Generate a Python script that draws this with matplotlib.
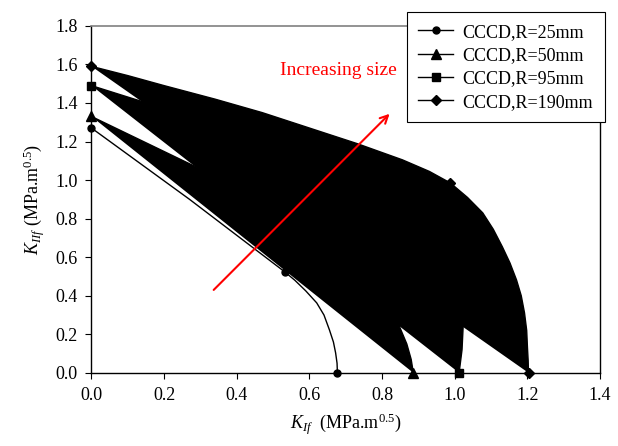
import numpy as np
import matplotlib
matplotlib.use("Agg")
from matplotlib import pyplot as plt

plt.rcParams['font.family'] = ['Liberation Serif', 'DejaVu Serif']
plt.rcParams['mathtext.fontset'] = 'custom'
plt.rcParams['mathtext.rm'] = 'Liberation Serif'
plt.rcParams['mathtext.it'] = 'Liberation Serif:italic'

# fracture envelopes KIf - KIIf for each specimen radius
k1_25 = [0, 0.27, 0.532, 0.56, 0.59, 0.62, 0.64, 0.655, 0.666, 0.672, 0.676, 0.677]
k2_25 = [1.27, 0.90, 0.524, 0.48, 0.425, 0.363, 0.30, 0.223, 0.16, 0.104, 0.05, 0]
mk_25 = [0, 2, 11]

k1_50 = [0, 0.286, 0.5, 0.70, 0.77, 0.815, 0.845, 0.868, 0.88, 0.886]
k2_50 = [1.33, 1.07, 0.88, 0.70, 0.58, 0.45, 0.253, 0.15, 0.07, 0]
mk_50 = [0, 3, 9]

k1_95 = [0, 0.135, 0.4, 0.62, 0.81, 0.92, 0.985, 1.012, 1.023, 1.02, 1.012]
k2_95 = [1.49, 1.41, 1.21, 1.03, 0.81, 0.62, 0.42, 0.32, 0.237, 0.12, 0]
mk_95 = [0, 4, 10]

k1_190 = [0, 0.1, 0.2, 0.34, 0.47, 0.6, 0.73, 0.856, 0.93, 0.988,
          1.035, 1.077, 1.106, 1.131, 1.152, 1.17, 1.183, 1.192, 1.198,
          1.2, 1.202, 1.203]
k2_190 = [1.59, 1.542, 1.49, 1.42, 1.35, 1.27, 1.19, 1.105, 1.045, 0.985,
          0.91, 0.83, 0.745, 0.654, 0.57, 0.482, 0.40, 0.311, 0.22,
          0.135, 0.065, 0]
mk_190 = [0, 9, 21]

labels = ['CCCD,R=25mm', 'CCCD,R=50mm', 'CCCD,R=95mm', 'CCCD,R=190mm']

fig = plt.figure(figsize=(6.18, 4.46), dpi=100)
ax = fig.add_axes([0.148, 0.164, 0.823, 0.778])

# filled envelopes (closed back to the first point)
ax.fill(k1_50, k2_50, color='black', lw=0)
ax.fill(k1_95, k2_95, color='black', lw=0)
ax.fill(k1_190, k2_190, color='black', lw=0)

ax.plot(k1_25, k2_25, 'k-', lw=1, marker='o', ms=5, markevery=mk_25,
        label=labels[0], clip_on=False)
ax.plot(k1_50, k2_50, 'k-', lw=1, marker='^', ms=6.5, markevery=mk_50,
        label=labels[1], clip_on=False)
ax.plot(k1_95, k2_95, 'k-', lw=1, marker='s', ms=5.5, markevery=mk_95,
        label=labels[2], clip_on=False)
ax.plot(k1_190, k2_190, 'k-', lw=1, marker='D', ms=5.5, markevery=mk_190,
        label=labels[3], clip_on=False)

ax.annotate('', xy=(0.826, 1.354), xytext=(0.331, 0.42),
            arrowprops=dict(arrowstyle='->', color='red', lw=1.5,
                            mutation_scale=14))
ax.text(0.52, 1.57, 'Increasing size', color='red', fontsize=14,
        ha='left', va='center')

ax.set_xlim(0, 1.4)
ax.set_ylim(0, 1.8)
ax.set_xticks(np.arange(0, 1.41, 0.2))
ax.set_yticks(np.arange(0, 1.81, 0.2))
ax.xaxis.set_major_formatter(matplotlib.ticker.FormatStrFormatter('%.1f'))
ax.yaxis.set_major_formatter(matplotlib.ticker.FormatStrFormatter('%.1f'))
ax.tick_params(direction='out', length=4, width=0.8, labelsize=13, pad=6)

for s in ['left', 'bottom', 'right']:
    ax.spines[s].set_color('black')
    ax.spines[s].set_linewidth(1)
ax.spines['top'].set_color('#808080')
ax.spines['top'].set_linewidth(1.2)

ax.set_xlabel(r'$K_{If}$  (MPa.m$^{0.5}$)', fontsize=13, labelpad=6)
ax.set_ylabel(r'$K_{IIf}$ (MPa.m$^{0.5}$)', fontsize=13, labelpad=6)

leg = ax.legend(loc='upper right', bbox_to_anchor=(605 / 618, 1 - 12 / 446),
                bbox_transform=fig.transFigure, fontsize=13, frameon=True,
                fancybox=False, framealpha=1, edgecolor='black',
                handlelength=1.9, handletextpad=0.55, labelspacing=0.35,
                borderpad=0.65, borderaxespad=0)
leg.get_frame().set_linewidth(0.8)

fig.savefig('out.png', dpi=100)
